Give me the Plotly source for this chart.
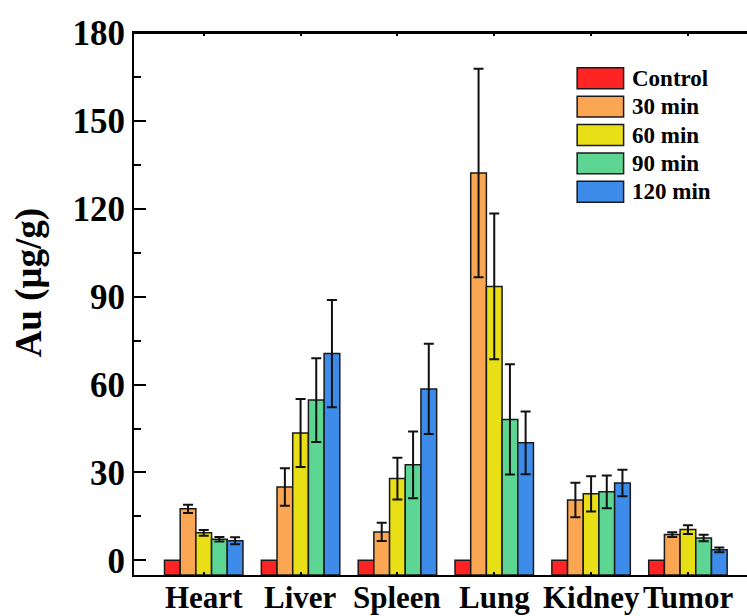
import plotly.graph_objects as go

# Gold content in tissues after injection (mean ± error)
organs = ["Heart", "Liver", "Spleen", "Lung", "Kidney", "Tumor"]
series_names = ["Control", "30 min", "60 min", "90 min", "120 min"]
series_colors = ["#FF2424", "#FBA652", "#E9DF16", "#5DD694", "#3E8CE9"]

control = [0, 0, 0, 0, 0, 0]
min30 = [17.6, 25.0, 9.7, 132.2, 20.6, 8.8]
min60 = [9.4, 43.5, 27.9, 93.5, 22.7, 10.5]
min90 = [7.2, 54.7, 32.6, 48.1, 23.4, 7.6]
min120 = [6.7, 70.6, 58.5, 40.1, 26.4, 3.6]

err30 = [1.4, 6.4, 3.1, 35.6, 5.9, 0.8]
err60 = [1.0, 11.6, 7.1, 24.9, 6.0, 1.5]
err90 = [0.8, 14.3, 11.4, 18.8, 5.6, 1.1]
err120 = [1.2, 18.3, 15.4, 10.7, 4.5, 0.8]

values = [control, min30, min60, min90, min120]
errors = [None, err30, err60, err90, err120]

Y_MIN, Y_MAX = -5, 180
FONT = "Liberation Serif"

fig = go.Figure()
for name, color, vals, errs in zip(series_names, series_colors, values, errors):
    bar = dict(
        x=organs,
        y=[v - Y_MIN for v in vals],
        base=Y_MIN,
        name=name,
        marker=dict(color=color, line=dict(color="#1a1a1a", width=1.5)),
        showlegend=False,
    )
    if errs is not None:
        bar["error_y"] = dict(type="data", array=errs, visible=True,
                              color="#111111", thickness=2, width=5)
    fig.add_trace(go.Bar(**bar))

# Plot area geometry (pixels) used to place the hand-drawn legend and labels
W, H = 747, 616
ML, MR, MT, MB = 133.5, 0, 33, 40.5
PW, PH = W - ML - MR, H - MT - MB


def px_x(x):
    return (x - ML) / PW


def px_y(y):
    return (H - MB - y) / PH


shapes = []
annotations = []
legend_top = 78.3
for i, (name, color) in enumerate(zip(series_names, series_colors)):
    cy = legend_top + i * 28.4
    shapes.append(dict(type="rect", xref="paper", yref="paper",
                       x0=px_x(577), x1=px_x(623.5),
                       y0=px_y(cy + 10.5), y1=px_y(cy - 10.5),
                       fillcolor=color, line=dict(color="#1a1a1a", width=1.5)))
    annotations.append(dict(xref="paper", yref="paper", x=px_x(630), y=px_y(cy),
                            text="<b>%s</b>" % name, showarrow=False,
                            xanchor="left", yanchor="middle",
                            font=dict(family=FONT, size=23, color="black")))

# category labels under the axis
for organ in organs:
    annotations.append(dict(xref="x", yref="paper", x=organ, y=px_y(598),
                            text="<b>%s</b>" % organ, showarrow=False,
                            xanchor="center", yanchor="middle",
                            font=dict(family=FONT, size=31, color="black")))

annotations.append(dict(xref="paper", yref="paper", x=px_x(28), y=px_y(283),
                        text="<b>Au (μg/g)</b>", showarrow=False, textangle=-90,
                        xanchor="center", yanchor="middle",
                        font=dict(family=FONT, size=37, color="black")))

fig.update_layout(
    width=W, height=H,
    margin=dict(l=ML, r=MR, t=MT, b=MB, pad=0, autoexpand=False),
    paper_bgcolor="white", plot_bgcolor="white",
    barmode="group", bargap=0.19, bargroupgap=0,
    shapes=shapes, annotations=annotations,
    font=dict(family=FONT, color="black"),
)

fig.update_xaxes(
    type="category", range=[-0.72, 5.61], automargin=False,
    showline=True, linecolor="black", linewidth=2, mirror="allticks",
    ticks="inside", ticklen=3, tickwidth=1.5, tickcolor="black",
    showticklabels=False,
    showgrid=False, zeroline=False,
)

fig.update_yaxes(
    range=[Y_MIN, Y_MAX], tick0=0, dtick=30, automargin=False,
    showline=True, linecolor="black", linewidth=2,
    ticks="inside", ticklen=12, tickwidth=2, tickcolor="black",
    minor=dict(ticks="inside", ticklen=7, tickwidth=2, tickcolor="black", dtick=15, tick0=0),
    tickfont=dict(family=FONT, size=35, color="black"),
    tickprefix="<b>", ticksuffix="</b>",
    showgrid=False, zeroline=False,
)

# top frame line at 180
fig.add_shape(type="line", xref="paper", yref="y", x0=0, x1=1, y0=Y_MAX, y1=Y_MAX,
              line=dict(color="black", width=2))

fig.write_html("out.html")
